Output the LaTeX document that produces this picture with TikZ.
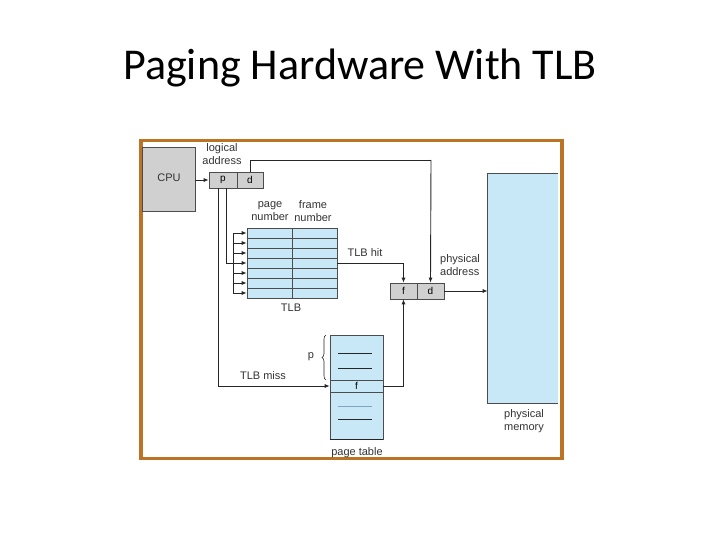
\documentclass[tikz,border=0pt]{standalone}
\usepackage{fontspec}
\setmainfont{Liberation Sans}
\newfontfamily\titlefont{Carlito}
\usetikzlibrary{arrows.meta, positioning, decorations.pathreplacing}
\definecolor{framecol}{HTML}{BD7324}
\definecolor{memblue}{HTML}{C8E8F8}
\definecolor{boxgray}{HTML}{D0D0D0}
\definecolor{lightline}{HTML}{7FA6BC}

\begin{document}
\begin{tikzpicture}[
                x=1pt, y=-1pt,
                lbl/.style={font=\fontsize{11}{13}\selectfont, align=center, inner sep=0pt, text=black!80},
                graybox/.style={draw=black!70, fill=boxgray, line width=0.6pt},
                bluebox/.style={draw=black!70, fill=memblue, line width=0.6pt},
                wire/.style={draw=black!85, line width=0.9pt},
                arr/.style={wire, -{Latex[length=5pt, width=4pt]}}
            ]
                \useasboundingbox (0,0) rectangle (720,540);
                \node[font=\titlefont\fontsize{44}{50}\selectfont, anchor=base] (title) at (360,80) {Paging Hardware With TLB};
                % frame
                \node[draw=framecol, line width=3.5pt, minimum width=421pt, minimum height=318pt, inner sep=0pt] (frame) at (351.5,299.5) {};
                % cpu and logical address
                \node[graybox, minimum width=53pt, minimum height=64pt, inner sep=0pt] (cpu) at (168.5,179) {};
                \node[lbl] (cpulbl) at (169,178) {CPU};
                \node[graybox, minimum width=28pt, minimum height=16pt, inner sep=0pt] (p) at (223,180) {p};
                \node[graybox, minimum width=26pt, minimum height=16pt, inner sep=0pt] (d) at (250,180) {d};
                \node[lbl] (logical) at (222,154) {logical\\address};
                % TLB
                \foreach \r in {0,...,6} {
                    \node[bluebox, minimum width=45pt, minimum height=10pt, inner sep=0pt] (pg\r) at (269.5,233+10*\r) {};
                    \node[bluebox, minimum width=45pt, minimum height=10pt, inner sep=0pt] (fr\r) at (314.5,233+10*\r) {};
                }
                \node[lbl] (pagenum) at (270,211) {page\\number};
                \node[lbl] (framenum) at (313,211) {frame\\number};
                \node[lbl] (tlblbl) at (291,308) {TLB};
                % physical address
                \node[graybox, minimum width=27pt, minimum height=16pt, inner sep=0pt] (f) at (403.5,291) {f};
                \node[graybox, minimum width=27pt, minimum height=16pt, inner sep=0pt] (pd) at (430.5,291) {d};
                \node[lbl, align=left] (physaddr) at (460,265) {physical\\address};
                % physical memory
                \node[bluebox, draw=none, minimum width=70pt, minimum height=229pt, inner sep=0pt] (mem) at (523,288.5) {};
                \draw[black!70, line width=0.6pt] (mem.north east) -- (mem.north west) -- (mem.south west) -- (mem.south east);
                \node[lbl, align=left] (memlbl) at (524,421) {physical\\memory};
                % page table
                \node[bluebox, minimum width=53pt, minimum height=104pt, inner sep=0pt] (ptab) at (356.5,387) {};
                \node[bluebox, minimum width=53pt, minimum height=12pt, inner sep=0pt] (frow) at (356.5,386) {f};
                \draw[black!85, line width=1.2pt] (ptab.south west) -- (ptab.south east);
                \draw[black!85, line width=0.8pt] (338,353) -- (372,353) (338,368) -- (372,368) (338,419) -- (372,419);
                \draw[lightline, line width=0.8pt] (338,406) -- (372,406);
                \node[lbl] (ptablbl) at (357,453) {page table};
                \draw[black!85, line width=0.6pt, decorate, decoration={brace, amplitude=4pt}] (326,380) -- (326,335);
                \node[lbl] (plbl) at (311,357) {p};
                \node[lbl] (hitlbl) at (365,253) {TLB hit};
                \node[lbl] (misslbl) at (263,376) {TLB miss};
                % connectors
                \coordinate (bustop) at (233,233);
                \coordinate (busbot) at (233,293);
                \draw[arr] (cpu.east |- p.west) -- (p.west);
                \draw[wire] (d.north) |- (431,160) coordinate (dcorner);
                \draw[arr] (dcorner) -- (pd.north);
                \draw[wire] (226,188) |- (233,263);
                \draw[wire] (bustop) -- (busbot);
                \foreach \r in {0,...,6} {
                    \draw[arr] (233,233+10*\r) -- (pg\r.west);
                }
                \draw[arr] (fr3.east) -| (f.north);
                \draw[arr] (218,188) |- (frow.west);
                \draw[arr] (frow.east) -| (f.south);
                \draw[arr] (pd.east) -- (mem.west |- pd.east);
            \end{tikzpicture}
\end{document}
